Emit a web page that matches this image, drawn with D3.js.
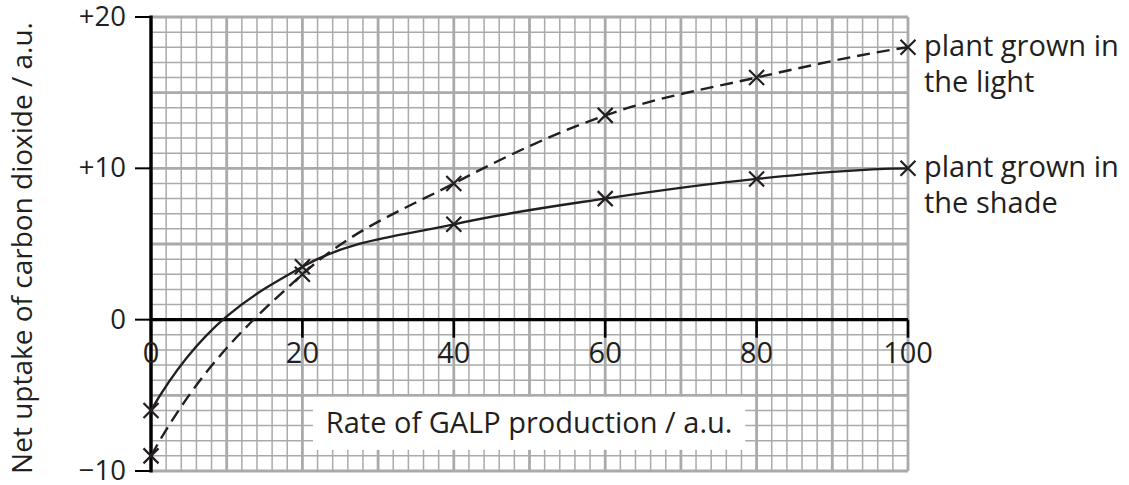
<!DOCTYPE html>
<html><head><meta charset="utf-8">
<script src="https://cdn.jsdelivr.net/npm/d3@7"></script>
<style>body{margin:0;background:#fff;} text{font-family:"Open Sans",sans-serif;fill:#231f20;}</style>
</head><body>
<svg id="c" width="1129" height="485"></svg>
<script>
const xValues = [0, 20, 40, 60, 80, 100];
const lightValues = [-9, 3, 9, 13.5, 16, 18];
const shadeValues = [-6, 3.5, 6.3, 8, 9.3, 10];
const xTickLabels = ["0", "20", "40", "60", "80", "100"];
const yTickValues = [-10, 0, 10, 20];
const yTickLabels = ["\u221210", "0", "+10", "+20"];
const seriesLabels = [["plant grown in", "the light"], ["plant grown in", "the shade"]];
const xTitle = "Rate of GALP production / a.u.";
const yTitle = "Net uptake of carbon dioxide / a.u.";

const svg = d3.select("#c");
const x = d3.scaleLinear().domain([0, 100]).range([151, 908]);
const y = d3.scaleLinear().domain([-10, 20]).range([471, 17]);
const FS = 29;

const g = svg.append("g");
const gridColor = "#aaaaaa";
g.selectAll(".vx").data(d3.range(0, 101, 2)).enter().append("line")
  .attr("x1", d => x(d)).attr("x2", d => x(d)).attr("y1", y(20)).attr("y2", y(-10))
  .attr("stroke", gridColor).attr("stroke-width", d => d % 10 === 0 ? 2.8 : 1.5);
g.selectAll(".hy").data(d3.range(-10, 21, 1)).enter().append("line")
  .attr("y1", d => y(d)).attr("y2", d => y(d)).attr("x1", x(0)).attr("x2", x(100))
  .attr("stroke", gridColor).attr("stroke-width", d => d % 5 === 0 ? 2.8 : 1.5);

// x title box
const bx0 = x(21.4), bx1 = x(78.5), by0 = y(-5.1), by1 = y(-8.6);
g.append("rect").attr("x", bx0).attr("y", by0).attr("width", bx1 - bx0).attr("height", by1 - by0).attr("fill", "#fff");
g.append("text").attr("x", (bx0 + bx1) / 2).attr("y", (by0 + by1) / 2 + 10).attr("text-anchor", "middle")
  .attr("font-size", FS).text(xTitle);

// axes
g.append("line").attr("x1", x(0)).attr("x2", x(100)).attr("y1", y(0)).attr("y2", y(0)).attr("stroke", "#000").attr("stroke-width", 3.4);
g.append("line").attr("x1", x(0)).attr("x2", x(0)).attr("y1", y(20) - 1.5).attr("y2", y(-10) + 1.5).attr("stroke", "#000").attr("stroke-width", 3.4);

// x ticks
g.selectAll(".xt").data(xValues.slice(1)).enter().append("line")
  .attr("x1", d => x(d)).attr("x2", d => x(d)).attr("y1", y(0)).attr("y2", y(0) + 18)
  .attr("stroke", "#000").attr("stroke-width", 2.6);
g.selectAll(".xl").data(xValues).enter().append("text")
  .attr("x", d => x(d)).attr("y", y(0) + 43).attr("text-anchor", "middle").attr("font-size", FS)
  .text((d, i) => xTickLabels[i]);
// y ticks
g.selectAll(".yt").data(yTickValues).enter().append("line")
  .attr("x1", x(0) - 16).attr("x2", x(0)).attr("y1", d => y(d)).attr("y2", d => y(d))
  .attr("stroke", "#000").attr("stroke-width", 2);
g.selectAll(".yl").data(yTickValues).enter().append("text")
  .attr("x", x(0) - 25).attr("y", d => y(d) + 9).attr("text-anchor", "end")
  .attr("font-size", 27.5).text((d, i) => yTickLabels[i]);

// y title
g.append("text").attr("transform", `translate(32,${(y(20)+y(-10))/2 + 4}) rotate(-90)`)
  .attr("text-anchor", "middle").attr("font-size", 28).text(yTitle);

// smooth hand-drawn-style curve: cubic Hermite through the data points
function smoothPath(pts) {
  const n = pts.length;
  const s = [];
  for (let i = 0; i < n - 1; i++) s.push((pts[i + 1][1] - pts[i][1]) / (pts[i + 1][0] - pts[i][0]));
  const m = new Array(n);
  for (let i = 1; i < n - 1; i++) {
    const h0 = pts[i][0] - pts[i - 1][0], h1 = pts[i + 1][0] - pts[i][0];
    const p = (s[i - 1] * h1 + s[i] * h0) / (h0 + h1);
    m[i] = (Math.sign(s[i - 1]) + Math.sign(s[i])) * Math.min(Math.abs(s[i - 1]), Math.abs(s[i]), 0.5 * Math.abs(p));
  }
  m[0] = 3 * s[0] - 2 * m[1];
  m[n - 1] = 3 * s[n - 2] - 2 * m[n - 2];
  const path = d3.path();
  path.moveTo(x(pts[0][0]), y(pts[0][1]));
  for (let i = 0; i < n - 1; i++) {
    const h = pts[i + 1][0] - pts[i][0];
    path.bezierCurveTo(
      x(pts[i][0] + h / 3), y(pts[i][1] + m[i] * h / 3),
      x(pts[i + 1][0] - h / 3), y(pts[i + 1][1] - m[i + 1] * h / 3),
      x(pts[i + 1][0]), y(pts[i + 1][1]));
  }
  return path.toString();
}

const series = [
  { vals: lightValues, dash: "13,7" },
  { vals: shadeValues, dash: null }
];
series.forEach((sr, si) => {
  const pts = xValues.map((v, i) => [v, sr.vals[i]]);
  g.append("path").attr("d", smoothPath(pts)).attr("fill", "none").attr("stroke", "#231f20")
    .attr("stroke-width", 2.4).attr("stroke-dasharray", sr.dash);
  const r = 7.5;
  pts.forEach(p => {
    const cx = x(p[0]), cy = y(p[1]);
    g.append("path").attr("d", `M${cx-r},${cy-r}L${cx+r},${cy+r}M${cx-r},${cy+r}L${cx+r},${cy-r}`)
      .attr("stroke", "#231f20").attr("stroke-width", 2.2);
  });
  const last = pts[pts.length - 1];
  seriesLabels[si].forEach((t, k) => {
    g.append("text").attr("x", x(100) + 16).attr("y", y(last[1]) + 9 + k * 36)
      .attr("font-size", FS).text(t);
  });
});
</script>
</body></html>
